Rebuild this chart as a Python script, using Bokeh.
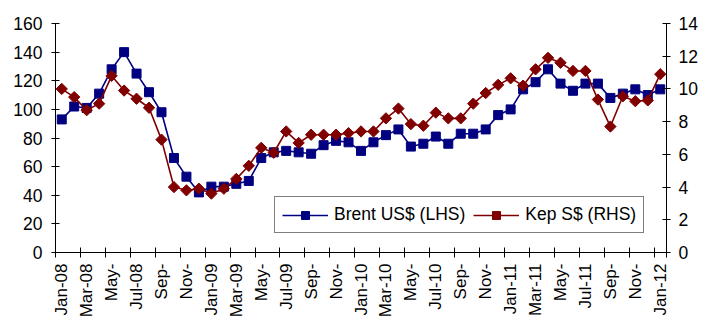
import numpy as np
from bokeh.plotting import figure
from bokeh.models import Range1d, LinearAxis, FixedTicker, Legend
from bokeh.embed import file_html
from bokeh.resources import INLINE

months = ["Jan-08", "Feb-08", "Mar-08", "Apr-08", "May-08", "Jun-08", "Jul-08", "Aug-08", "Sep-08", "Oct-08", "Nov-08", "Dec-08",
          "Jan-09", "Feb-09", "Mar-09", "Apr-09", "May-09", "Jun-09", "Jul-09", "Aug-09", "Sep-09", "Oct-09", "Nov-09", "Dec-09",
          "Jan-10", "Feb-10", "Mar-10", "Apr-10", "May-10", "Jun-10", "Jul-10", "Aug-10", "Sep-10", "Oct-10", "Nov-10", "Dec-10",
          "Jan-11", "Feb-11", "Mar-11", "Apr-11", "May-11", "Jun-11", "Jul-11", "Aug-11", "Sep-11", "Oct-11", "Nov-11", "Dec-11",
          "Jan-12"]

tick_labels = ["Jan-08", "Mar-08", "May-", "Jul-08", "Sep-", "Nov-",
               "Jan-09", "Mar-09", "May-", "Jul-09", "Sep-", "Nov-",
               "Jan-10", "Mar-10", "May-", "Jul-10", "Sep-", "Nov-",
               "Jan-11", "Mar-11", "May-", "Jul-11", "Sep-", "Nov-",
               "Jan-12"]

brent = [93, 102, 101, 111, 128, 140, 125, 112, 98, 66, 53, 42,
         46, 46, 48, 50, 66, 70, 71, 70, 69, 75, 78, 77,
         71, 77, 82, 86, 74, 76, 81, 76, 83, 83, 86, 96,
         100, 114, 119, 128, 118, 113, 118, 118, 108, 111, 114, 110,
         114]

kep = [10.0, 9.5, 8.7, 9.1, 10.8, 9.9, 9.4, 8.85, 6.9, 4.0, 3.8, 3.9,
       3.6, 3.9, 4.5, 5.3, 6.4, 6.1, 7.4, 6.7, 7.2, 7.2, 7.2, 7.3,
       7.4, 7.4, 8.2, 8.8, 7.85, 7.75, 8.55, 8.2, 8.2, 9.1, 9.75, 10.25,
       10.65, 10.2, 11.2, 11.9, 11.6, 11.1, 11.1, 9.35, 7.7, 9.55, 9.25, 9.3,
       10.9]

FONT = "Liberation Sans"
FS = "17.5px"

x = list(range(len(months)))

p = figure(width=715, height=320, output_backend="svg", toolbar_location=None,
           x_range=Range1d(-0.5, len(months) - 0.5), y_range=Range1d(0, 160),
           min_border_left=55, min_border_right=49, min_border_top=23, min_border_bottom=65)
p.outline_line_color = None
p.xgrid.visible = False
p.ygrid.visible = False
p.background_fill_color = "white"
p.border_fill_color = "white"

p.extra_y_ranges = {"right": Range1d(0, 14)}

navy = "#000080"
maroon = "#800000"

l1 = p.line(x, brent, line_color=navy, line_width=1.6)
s1 = p.scatter(x, brent, marker="square", size=9, fill_color=navy, line_color=navy)
l2 = p.line(x, kep, line_color=maroon, line_width=1.6, y_range_name="right")
s2 = p.scatter(x, kep, marker="square", angle=np.pi / 4, size=8, fill_color=maroon, line_color=maroon,
               y_range_name="right")

# x axis
xa = p.xaxis[0]
major = list(range(0, len(months), 2))
minor = [m - 0.5 for m in major] + [len(months) - 0.5]
xa.ticker = FixedTicker(ticks=major, minor_ticks=minor)
xa.major_label_overrides = {i: lab for i, lab in zip(major, tick_labels)}
xa.major_label_orientation = np.pi / 2
xa.major_tick_line_color = None
xa.major_tick_out = 5
xa.major_tick_in = 0
xa.minor_tick_line_color = "black"
xa.minor_tick_in = 5
xa.minor_tick_out = 5
xa.major_label_standoff = 6
xa.major_label_text_font = FONT
xa.major_label_text_font_size = "17px"
xa.major_label_text_color = "black"
xa.axis_line_color = "black"

# left axis
ya = p.yaxis[0]
ya.ticker = FixedTicker(ticks=list(range(0, 161, 20)))
ya.minor_tick_line_color = None
ya.major_tick_in = 4
ya.major_tick_out = 4
ya.major_label_standoff = 9
ya.major_label_text_font = FONT
ya.major_label_text_font_size = FS
ya.major_label_text_color = "black"
ya.axis_line_color = "black"
ya.major_tick_line_color = "black"

# right axis
ra = LinearAxis(y_range_name="right", ticker=FixedTicker(ticks=list(range(0, 15, 2))))
ra.minor_tick_line_color = None
ra.major_tick_in = 4
ra.major_tick_out = 4
ra.major_label_standoff = 8
ra.major_label_text_font = FONT
ra.major_label_text_font_size = FS
ra.major_label_text_color = "black"
ra.axis_line_color = "black"
p.add_layout(ra, "right")

legend = Legend(items=[("Brent US$ (LHS)", [l1, s1]), ("Kep S$ (RHS)", [l2, s2])],
                orientation="horizontal", location=(219, 19))
legend.label_text_font = FONT
legend.label_text_font_size = FS
legend.label_text_color = "black"
legend.glyph_width = 46
legend.glyph_height = 20
legend.padding = 7
legend.spacing = 8
legend.label_standoff = 6
legend.border_line_color = "black"
legend.border_line_width = 1
legend.background_fill_color = "white"
legend.background_fill_alpha = 1
legend.margin = 0
p.add_layout(legend, "center")

open("out.html", "w").write(file_html(p, INLINE))
